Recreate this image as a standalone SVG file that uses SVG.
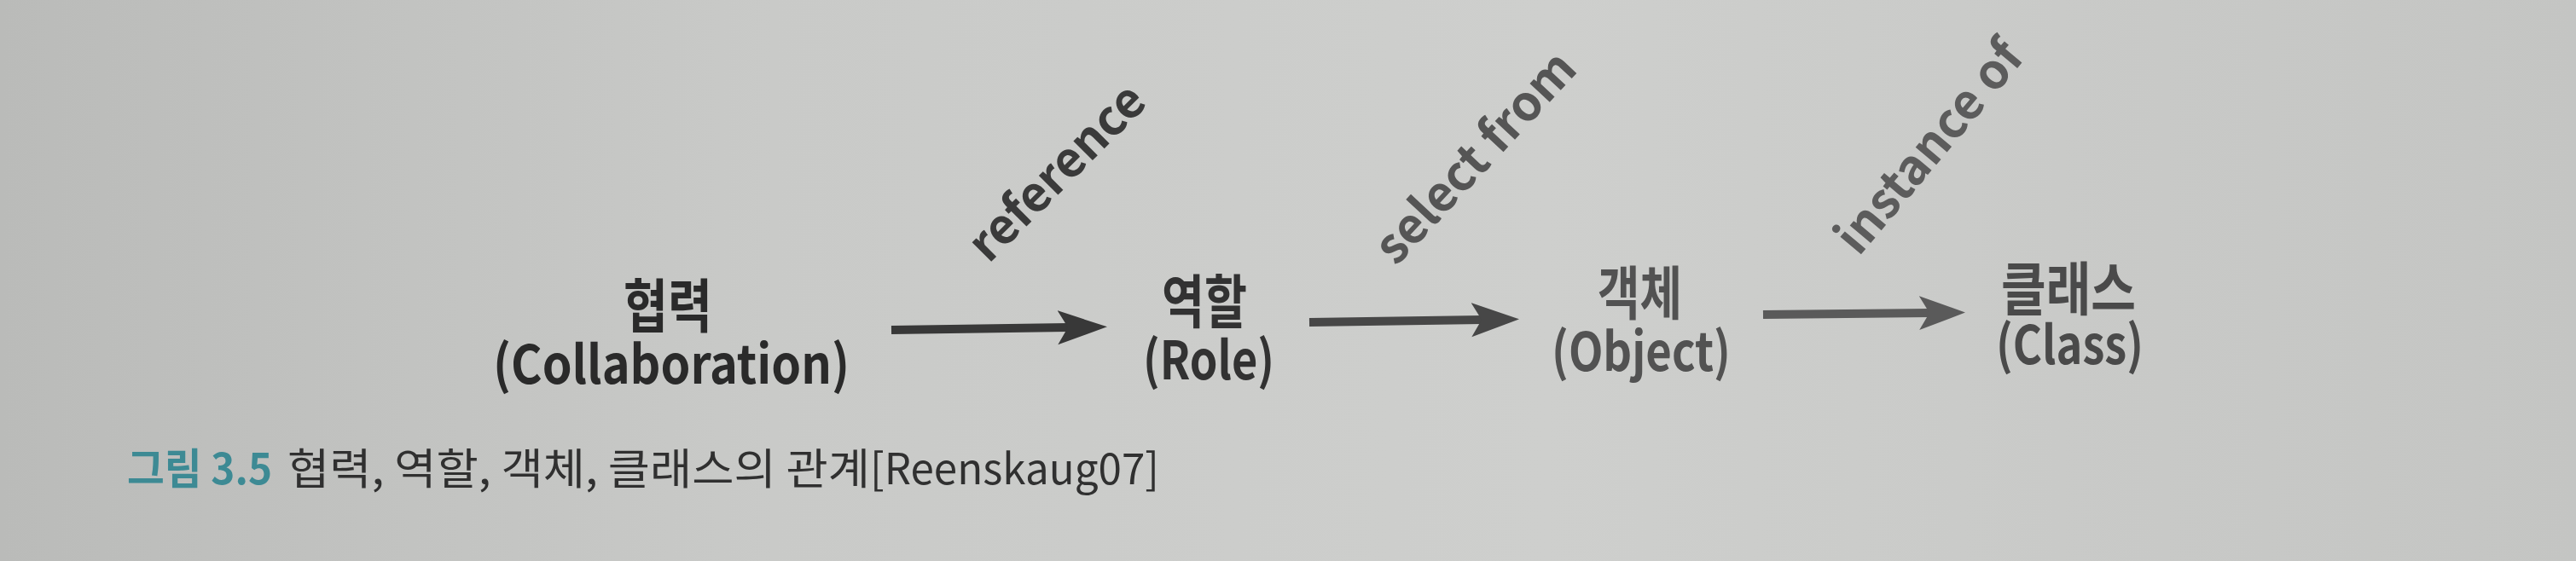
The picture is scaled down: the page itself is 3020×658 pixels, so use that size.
<svg xmlns="http://www.w3.org/2000/svg" width="3020" height="658" viewBox="0 0 3020 658">
  <defs>
    <linearGradient id="paper" x1="0" y1="0" x2="1" y2="0">
      <stop offset="0" stop-color="#babbb9"/>
      <stop offset="0.3" stop-color="#c9cac8"/>
      <stop offset="0.6" stop-color="#cecfcd"/>
      <stop offset="1" stop-color="#c4c5c3"/>
    </linearGradient>
    <marker id="head1" markerUnits="userSpaceOnUse" markerWidth="62" markerHeight="42" refX="12" refY="20" orient="auto" viewBox="0 0 62 42">
      <path d="M0,0 L58,20 L0,40 L12,20 Z" fill="#383838"/>
    </marker>
    <marker id="head2" markerUnits="userSpaceOnUse" markerWidth="62" markerHeight="42" refX="12" refY="20" orient="auto" viewBox="0 0 62 42">
      <path d="M0,0 L56,20 L0,40 L12,20 Z" fill="#474747"/>
    </marker>
    <marker id="head3" markerUnits="userSpaceOnUse" markerWidth="62" markerHeight="42" refX="12" refY="20" orient="auto" viewBox="0 0 62 42">
      <path d="M0,0 L54,20 L0,40 L12,20 Z" fill="#5a5a5a"/>
    </marker>
  </defs>
  <style>
    .ko { font-family: "Noto Sans CJK KR", "Noto Sans", sans-serif; font-weight: bold; font-size: 68px; }
    .en { font-family: "Noto Sans CJK KR", "Noto Sans", sans-serif; font-weight: bold; font-size: 62px; }
    .lbl { font-family: "Noto Sans CJK KR", "Noto Sans", sans-serif; font-weight: bold; font-size: 57px; text-anchor: middle; }
    .cap { font-family: "Noto Sans CJK KR", "Noto Sans", sans-serif; font-size: 50px; }
    .shaft { stroke-width: 10; fill: none; }
  </style>
  <rect x="0" y="0" width="3020" height="658" fill="url(#paper)"/>

  <g id="node-collaboration" fill="#2a2a2a">
    <text class="ko" x="731" y="384" textLength="104" lengthAdjust="spacingAndGlyphs">협력</text>
    <text class="en" x="578" y="450" textLength="418" lengthAdjust="spacingAndGlyphs">(Collaboration)</text>
  </g>
  <g id="node-role" fill="#323232">
    <text class="ko" x="1362" y="379" textLength="100" lengthAdjust="spacingAndGlyphs">역할</text>
    <text class="en" x="1340" y="445" textLength="154" lengthAdjust="spacingAndGlyphs">(Role)</text>
  </g>
  <g id="node-object" fill="#525252">
    <text class="ko" x="1873" y="369" textLength="99" lengthAdjust="spacingAndGlyphs">객체</text>
    <text class="en" x="1819" y="435" textLength="210" lengthAdjust="spacingAndGlyphs">(Object)</text>
  </g>
  <g id="node-class" fill="#4a4a4a">
    <text class="ko" x="2346" y="364" textLength="158" lengthAdjust="spacingAndGlyphs">클래스</text>
    <text class="en" x="2340" y="427" textLength="173" lengthAdjust="spacingAndGlyphs">(Class)</text>
  </g>

  <g id="connectors">
    <line class="shaft" x1="1045" y1="387" x2="1252" y2="384" stroke="#383838" marker-end="url(#head1)"/>
    <line class="shaft" x1="1535" y1="378" x2="1737" y2="375" stroke="#474747" marker-end="url(#head2)"/>
    <line class="shaft" x1="2067" y1="369" x2="2262" y2="367" stroke="#5a5a5a" marker-end="url(#head3)"/>
    <text class="lbl" fill="#3a3a3a" font-size="59" transform="translate(1253,216) rotate(-45)">reference</text>
    <text class="lbl" fill="#555555" transform="translate(1744,198) rotate(-47)">select from</text>
    <text class="lbl" fill="#5c5c5c" transform="translate(2277,185) rotate(-50)">instance of</text>
  </g>

  <g id="caption">
    <text class="cap" x="149" y="568" fill="#3d8a94" font-weight="bold" textLength="170" lengthAdjust="spacingAndGlyphs">그림 3.5</text>
    <text class="cap" x="337" y="568" fill="#303030" textLength="683" lengthAdjust="spacingAndGlyphs">협력, 역할, 객체, 클래스의 관계</text>
    <text class="cap" x="1020" y="568" fill="#303030" textLength="339" lengthAdjust="spacingAndGlyphs">[Reenskaug07]</text>
  </g>
</svg>
